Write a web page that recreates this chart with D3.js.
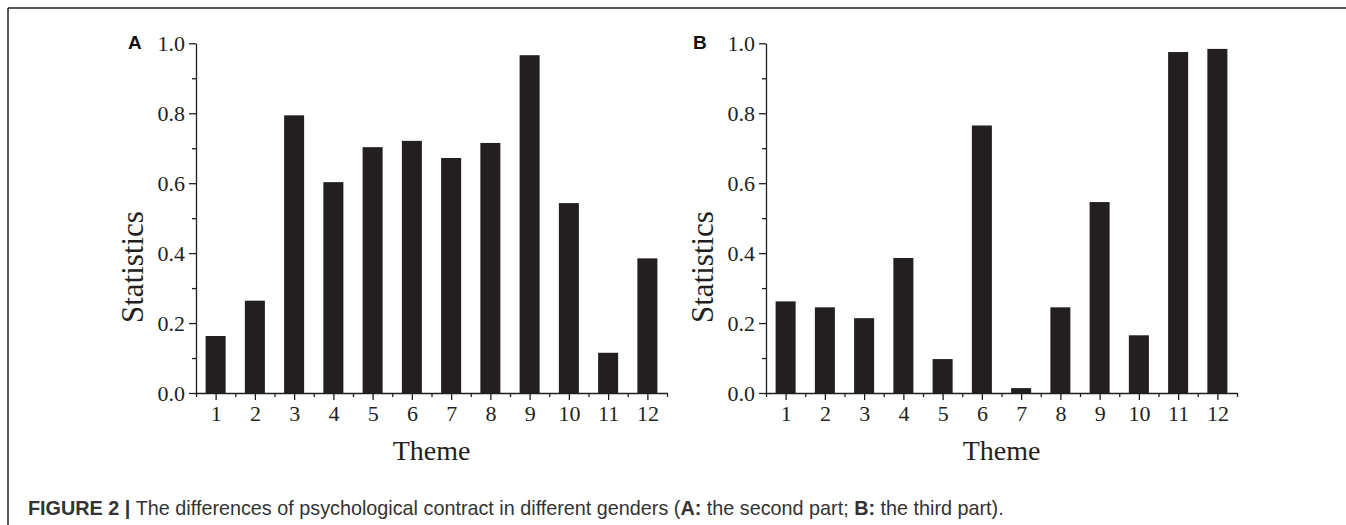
<!DOCTYPE html>
<html>
<head>
<meta charset="utf-8">
<script src="https://cdn.jsdelivr.net/npm/d3@7"></script>
<style>
  body { margin: 0; background: #fff; }
  svg { display: block; }
</style>
</head>
<body>
<svg id="chart" width="1346" height="525"></svg>
<script>
// themes on the x axis
const themes = [1, 2, 3, 4, 5, 6, 7, 8, 9, 10, 11, 12];
// A: the second part
const partA = [0.163, 0.264, 0.794, 0.603, 0.703, 0.721, 0.672, 0.715, 0.966, 0.543, 0.115, 0.385];
// B: the third part
const partB = [0.262, 0.245, 0.214, 0.386, 0.097, 0.765, 0.014, 0.245, 0.546, 0.165, 0.975, 0.984];
const yMajor = [0, 0.2, 0.4, 0.6, 0.8, 1.0];
const yMinor = [0.1, 0.3, 0.5, 0.7, 0.9];
const xMinor = [0.5, 1.5, 2.5, 3.5, 4.5, 5.5, 6.5, 7.5, 8.5, 9.5, 10.5, 11.5, 12.5];

const ink = '#231f20';
const serif = '"Liberation Serif", "Times New Roman", serif';
const sans = '"Liberation Sans", Arial, Helvetica, sans-serif';

const svg = d3.select('#chart');

// frame (top + left rule)
svg.append('line').attr('x1', 8).attr('x2', 1346).attr('y1', 8).attr('y2', 8)
    .attr('stroke', '#222').attr('stroke-width', 1.5);
svg.append('line').attr('x1', 8).attr('x2', 8).attr('y1', 8).attr('y2', 525)
    .attr('stroke', '#222').attr('stroke-width', 1.5);

function drawPanel(offsetX, values, letter, letterX) {
    const x = d3.scaleLinear().domain([0.5, 12.5]).range([196 + offsetX, 667 + offsetX]);
    const y = d3.scaleLinear().domain([0, 1]).range([393, 43.3]);
    const barW = (x(1) - x(0)) * 0.51;

    const g = svg.append('g');

    g.selectAll('.bar')
        .data(themes)
        .enter()
        .append('rect')
        .attr('class', 'bar')
        .attr('x', d => x(d) - barW / 2)
        .attr('width', barW)
        .attr('y', (d, i) => y(values[i]))
        .attr('height', (d, i) => y(0) - y(values[i]))
        .attr('fill', ink);

    // x axis
    g.append('g').attr('transform', `translate(0,${y(0)})`)
        .call(d3.axisBottom(x).tickValues(themes).tickSize(7).tickSizeOuter(0).tickPadding(5).tickFormat(d3.format('d')));
    g.append('g').attr('transform', `translate(0,${y(0)})`)
        .call(d3.axisBottom(x).tickValues(xMinor).tickSize(4).tickSizeOuter(0).tickFormat(''))
        .select('.domain').remove();

    // y axis
    g.append('g').attr('transform', `translate(${x(0.5)},0)`)
        .call(d3.axisLeft(y).tickValues(yMajor).tickSize(7).tickSizeOuter(0).tickPadding(4).tickFormat(d3.format('.1f')));
    g.append('g').attr('transform', `translate(${x(0.5)},0)`)
        .call(d3.axisLeft(y).tickValues(yMinor).tickSize(4).tickSizeOuter(0).tickFormat(''))
        .select('.domain').remove();

    g.selectAll('.domain, .tick line').attr('stroke', ink).attr('stroke-width', 1.3);
    g.selectAll('.tick text').attr('fill', ink).style('font-family', serif).style('font-size', '22px');

    g.append('text')
        .attr('x', (x(0.5) + x(12.5)) / 2)
        .attr('y', 460)
        .attr('text-anchor', 'middle')
        .style('font-family', serif).style('font-size', '28px')
        .attr('fill', ink)
        .text('Theme');

    g.append('text')
        .attr('transform', `translate(${143 + offsetX},${y(0.36)}) rotate(-90)`)
        .attr('text-anchor', 'middle')
        .style('font-family', serif).style('font-size', '31px')
        .attr('fill', ink)
        .text('Statistics');

    g.append('text')
        .attr('x', letterX)
        .attr('y', 49)
        .style('font-family', sans).style('font-size', '19px').style('font-weight', 'bold')
        .attr('fill', '#111')
        .text(letter);
}

drawPanel(0, partA, 'A', 128);
drawPanel(570, partB, 'B', 693);

// caption
const cap = svg.append('text')
    .attr('x', 28)
    .attr('y', 515)
    .style('font-family', sans).style('font-size', '19.8px')
    .attr('fill', '#333');
cap.append('tspan').style('font-weight', 'bold').text('FIGURE 2 | ');
cap.append('tspan').text('The differences of psychological contract in different genders (');
cap.append('tspan').style('font-weight', 'bold').text('A:');
cap.append('tspan').text(' the second part; ');
cap.append('tspan').style('font-weight', 'bold').text('B:');
cap.append('tspan').text(' the third part).');
</script>
</body>
</html>
